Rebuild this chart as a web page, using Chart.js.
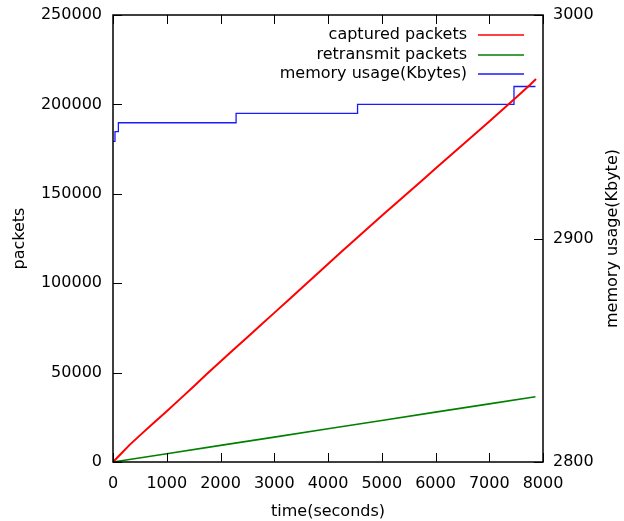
<!DOCTYPE html>
<html>
<head>
<meta charset="utf-8">
<script src="https://cdn.jsdelivr.net/npm/chart.js@4/dist/chart.umd.min.js"></script>
<style>
html,body{margin:0;padding:0;background:#fff;}
#wrap{width:624px;height:521px;}
</style>
</head>
<body>
<div id="wrap"><canvas id="c" width="624" height="521"></canvas></div>
<script>
// ---- data ----
const capturedTime = [0,150,300,500,750,1000,1250,1500,1750,2000,2250,2500,2750,3000,3250,3500,3750,4000,4250,4500,4750,5000,5250,5500,5750,6000,6250,6500,6750,7000,7250,7500,7750,7870];
const capturedPackets = [0,4600,9300,14900,21700,28400,35300,42200,49300,56200,63000,69800,76600,83400,90200,97000,103900,110800,117600,124300,131000,137700,144300,150900,157500,164100,170700,177300,183900,190500,197200,203900,210700,214200];
const retransTime = [0,1000,2000,3000,4000,5000,6000,7000,7860];
const retransPackets = [0,4600,9300,13900,18600,23200,27900,32500,36500];
const memTime = [0,37,100,2290,4550,7460,7860];
const memKbytes = [2943.5,2947.8,2951.8,2956,2960,2968,2968];
const xTickValues = [0,1000,2000,3000,4000,5000,6000,7000,8000];
const yTickValues = [0,50000,100000,150000,200000,250000];
const y2TickValues = [2800,2900,3000];
const seriesLabels = ['captured packets','retransmit packets','memory usage(Kbytes)'];
const seriesColors = ['#ff0000','#008000','#1a1aff'];
const xTitle = 'time(seconds)';
const yTitle = 'packets';
const y2Title = 'memory usage(Kbyte)';

const pts = (xs, ys) => xs.map((x,i)=>({x:x, y:ys[i]}));
const FONT = "'DejaVu Sans', sans-serif";
Chart.defaults.font.family = FONT;
Chart.defaults.font.size = 16;
Chart.defaults.color = '#000';

const frame = {
  id: 'frame',
  afterDraw(chart){
    const ctx = chart.ctx, a = chart.chartArea;
    const sx = chart.scales.x, sy = chart.scales.y, sy2 = chart.scales.y2;
    ctx.save();
    ctx.strokeStyle = '#000';
    ctx.lineWidth = 1;
    const L = 9;
    ctx.beginPath();
    sx.ticks.forEach(t=>{
      const p = Math.round(sx.getPixelForValue(t.value)) + 0.5;
      ctx.moveTo(p, a.bottom); ctx.lineTo(p, a.bottom - L);
      ctx.moveTo(p, a.top); ctx.lineTo(p, a.top + L);
    });
    sy.ticks.forEach(t=>{
      const p = Math.round(sy.getPixelForValue(t.value)) + 0.5;
      ctx.moveTo(a.left, p); ctx.lineTo(a.left + L, p);
    });
    sy2.ticks.forEach(t=>{
      const p = Math.round(sy2.getPixelForValue(t.value)) + 0.5;
      ctx.moveTo(a.right, p); ctx.lineTo(a.right - L, p);
    });
    ctx.stroke();
    ctx.lineWidth = 1.5;
    ctx.strokeRect(a.left, a.top, a.right - a.left, a.bottom - a.top);
    // legend
    ctx.font = '16px ' + FONT;
    ctx.textAlign = 'right';
    ctx.textBaseline = 'middle';
    seriesLabels.forEach((lab,i)=>{
      const y = 35 + i * 19.5;
      ctx.fillStyle = '#000';
      ctx.fillText(lab, 467, y);
      ctx.beginPath();
      ctx.strokeStyle = seriesColors[i];
      ctx.lineWidth = 1.5;
      ctx.moveTo(478, Math.round(y)); ctx.lineTo(524, Math.round(y));
      ctx.stroke();
    });
    // right axis title (reads bottom to top)
    ctx.save();
    ctx.translate(613, (a.top + a.bottom) / 2);
    ctx.rotate(-Math.PI / 2);
    ctx.textAlign = 'center';
    ctx.textBaseline = 'middle';
    ctx.fillStyle = '#000';
    ctx.fillText(y2Title, 0, 0);
    ctx.restore();
    ctx.restore();
  }
};

const setTicks = arr => scale => { scale.ticks = arr.map(v => ({value: v})); };
const fitV = w => s => { s.width = w; s.paddingTop = 0; s.paddingBottom = 0; };

new Chart(document.getElementById('c'), {
  type: 'line',
  data: {
    datasets: [
      {label: seriesLabels[0], data: pts(capturedTime, capturedPackets), borderColor: seriesColors[0], borderWidth: 2, pointRadius: 0, yAxisID: 'y', tension: 0},
      {label: seriesLabels[1], data: pts(retransTime, retransPackets), borderColor: seriesColors[1], borderWidth: 1.6, pointRadius: 0, yAxisID: 'y', tension: 0},
      {label: seriesLabels[2], data: pts(memTime, memKbytes), borderColor: seriesColors[2], borderWidth: 1.3, pointRadius: 0, yAxisID: 'y2', stepped: true}
    ]
  },
  options: {
    responsive: false,
    animation: false,
    layout: {padding: {top: 15, left: 0, right: 0, bottom: 0}},
    plugins: {legend: {display: false}, tooltip: {enabled: false}},
    scales: {
      x: {
        type: 'linear', position: 'bottom', min: 0, max: 8000,
        grid: {display: false, drawTicks: false}, border: {display: false},
        afterBuildTicks: setTicks(xTickValues),
        ticks: {padding: 12, maxRotation: 0, autoSkip: false, callback: v => String(v)},
        title: {display: true, text: xTitle, padding: {top: 0, bottom: 0}},
        afterFit: s => { s.height = 59; s.paddingLeft = 0; s.paddingRight = 0; }
      },
      y: {
        type: 'linear', position: 'left', min: 0, max: 250000,
        grid: {display: false, drawTicks: false}, border: {display: false},
        afterBuildTicks: setTicks(yTickValues),
        ticks: {padding: 11, autoSkip: false, callback: v => String(v)},
        title: {display: true, text: yTitle, padding: {top: 10, bottom: 0}},
        afterFit: fitV(113)
      },
      y2: {
        type: 'linear', position: 'right', min: 2800, max: 3000,
        grid: {display: false, drawTicks: false}, border: {display: false},
        afterBuildTicks: setTicks(y2TickValues),
        ticks: {padding: 10, autoSkip: false, callback: v => String(v)},
        title: {display: false, text: y2Title},
        afterFit: fitV(81)
      }
    }
  },
  plugins: [frame]
});
</script>
</body>
</html>
